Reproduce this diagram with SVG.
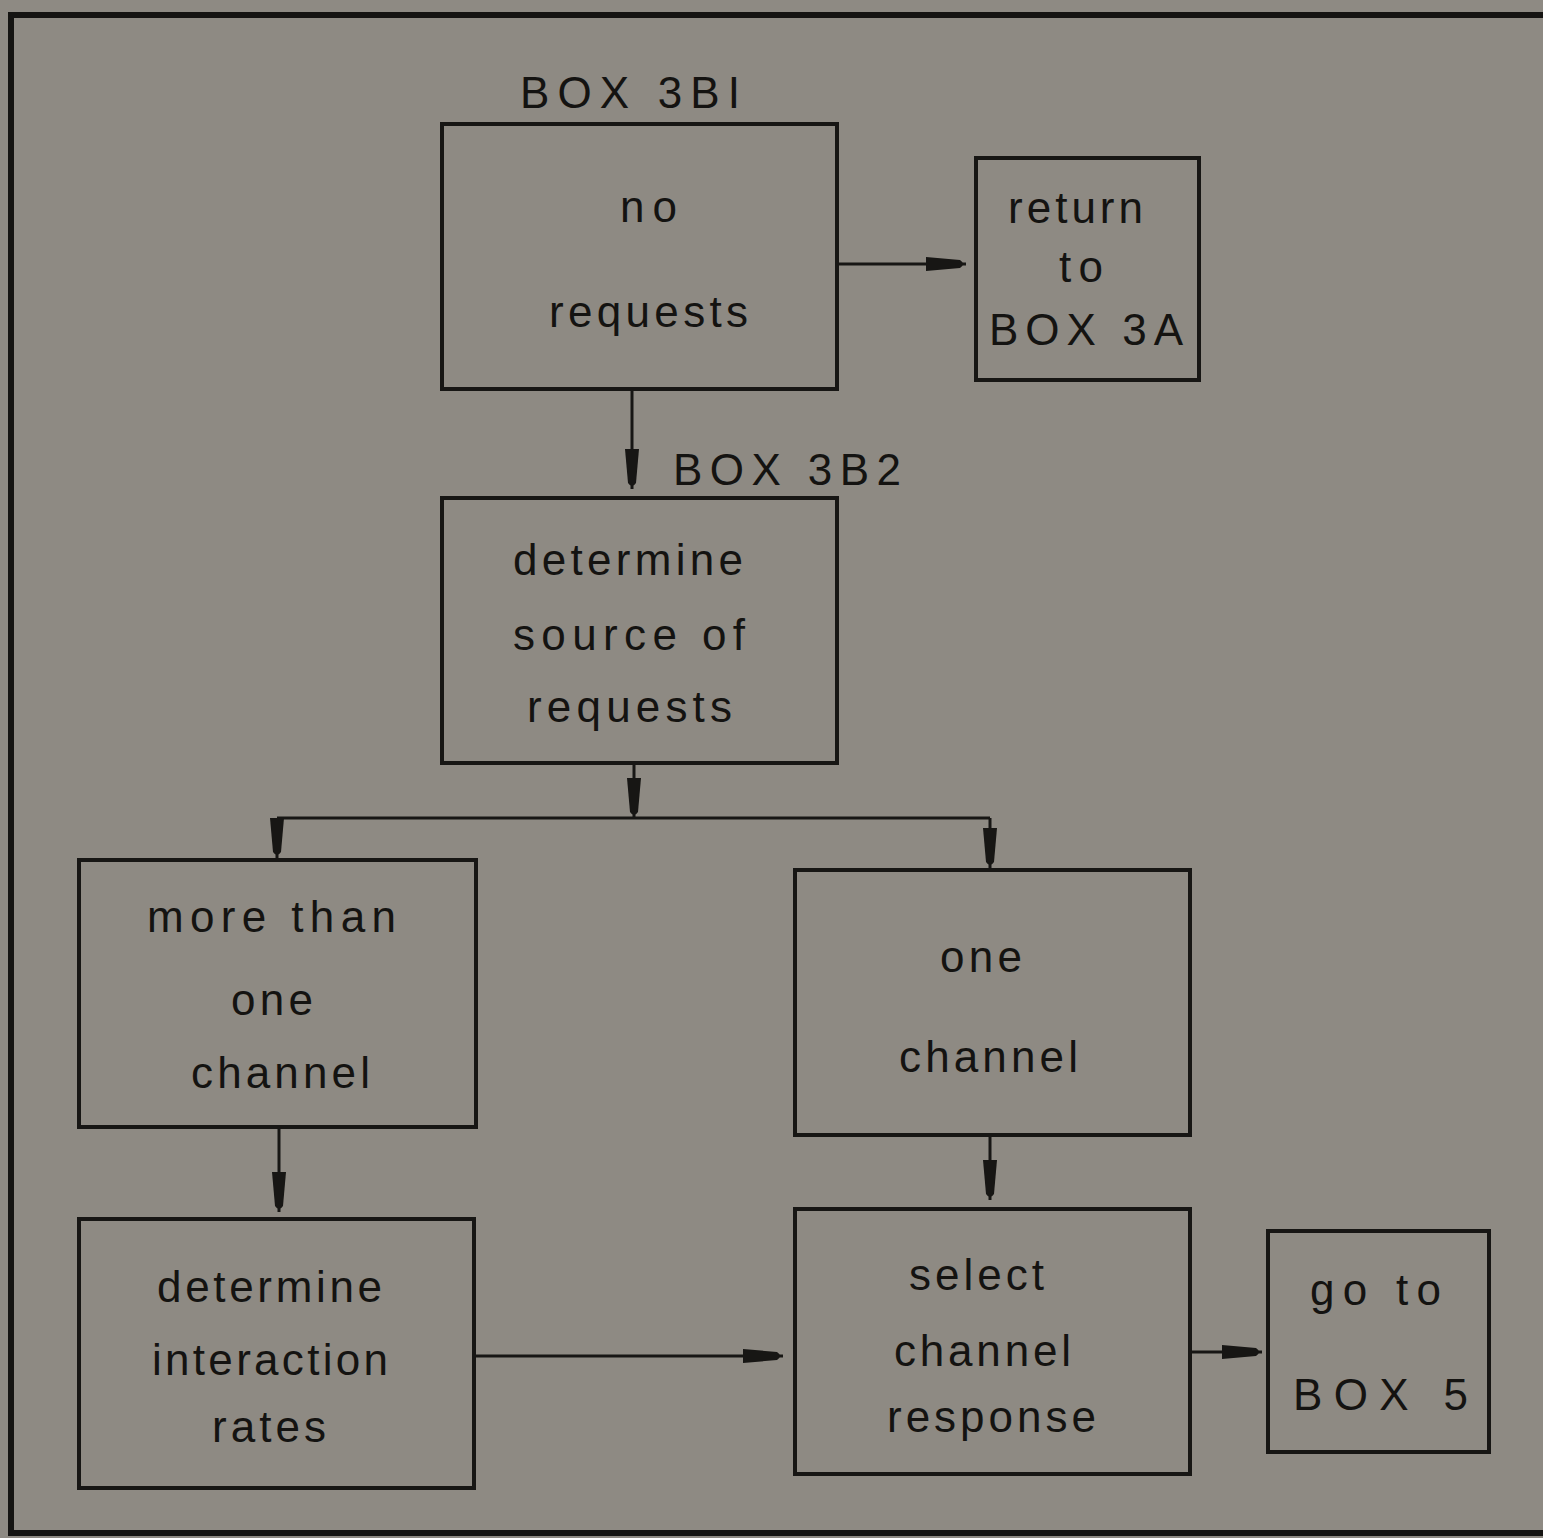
<svg xmlns="http://www.w3.org/2000/svg" width="1543" height="1538" viewBox="0 0 1543 1538">
<style>
.bg{fill:#8e8a83}
.frame{fill:none;stroke:#151412;stroke-width:6}
.box{fill:none;stroke:#171614;stroke-width:4}
.con{fill:none;stroke:#171614;stroke-width:3}
text{font-family:"Liberation Sans","DejaVu Sans",Arial,sans-serif;font-size:44px;fill:#141311}
</style>
<defs>
<marker id="ah" viewBox="0 0 40 16" refX="40" refY="8" markerWidth="40" markerHeight="16" markerUnits="userSpaceOnUse" orient="auto">
<path d="M0,1 L34,4 Q40,8 34,12 L0,15 Z" fill="#171614"/>
</marker>
</defs>
<rect class="bg" x="0" y="0" width="1543" height="1538"/>
<rect class="frame" x="11" y="15" width="1560" height="1518"/>

<g id="connectors">
<path class="con" d="M837,264 H966" marker-end="url(#ah)"/>
<path class="con" d="M632,389 V489" marker-end="url(#ah)"/>
<path class="con" d="M634,763 V818" marker-end="url(#ah)"/>
<path class="con" d="M277,818 H990"/>
<path class="con" d="M277,818 V858" marker-end="url(#ah)"/>
<path class="con" d="M990,818 V868" marker-end="url(#ah)"/>
<path class="con" d="M279,1127 V1212" marker-end="url(#ah)"/>
<path class="con" d="M990,1135 V1200" marker-end="url(#ah)"/>
<path class="con" d="M476,1356 H783" marker-end="url(#ah)"/>
<path class="con" d="M1190,1352 H1262" marker-end="url(#ah)"/>
</g>

<g id="box3b1">
<text x="520" y="108" textLength="220" lengthAdjust="spacing">BOX  3BI</text>
<rect class="box" x="442" y="124" width="395" height="265"/>
<text x="620" y="222" textLength="57" lengthAdjust="spacing">no</text>
<text x="549" y="327" textLength="199" lengthAdjust="spacing">requests</text>
</g>

<g id="box3a">
<rect class="box" x="976" y="158" width="223" height="222"/>
<text x="1008" y="223" textLength="135" lengthAdjust="spacing">return</text>
<text x="1059" y="282" textLength="44" lengthAdjust="spacing">to</text>
<text x="989" y="345" textLength="194" lengthAdjust="spacing">BOX  3A</text>
</g>

<g id="box3b2">
<text x="673" y="485" textLength="228" lengthAdjust="spacing">BOX  3B2</text>
<rect class="box" x="442" y="498" width="395" height="265"/>
<text x="513" y="575" textLength="230" lengthAdjust="spacing">determine</text>
<text x="513" y="650" textLength="232" lengthAdjust="spacing">source  of</text>
<text x="527" y="722" textLength="205" lengthAdjust="spacing">requests</text>
</g>

<g id="more">
<rect class="box" x="79" y="860" width="397" height="267"/>
<text x="147" y="932" textLength="249" lengthAdjust="spacing">more  than</text>
<text x="231" y="1015" textLength="82" lengthAdjust="spacing">one</text>
<text x="191" y="1088" textLength="179" lengthAdjust="spacing">channel</text>
</g>

<g id="one">
<rect class="box" x="795" y="870" width="395" height="265"/>
<text x="940" y="972" textLength="82" lengthAdjust="spacing">one</text>
<text x="899" y="1072" textLength="179" lengthAdjust="spacing">channel</text>
</g>

<g id="rates">
<rect class="box" x="79" y="1219" width="395" height="269"/>
<text x="157" y="1302" textLength="225" lengthAdjust="spacing">determine</text>
<text x="152" y="1375" textLength="236" lengthAdjust="spacing">interaction</text>
<text x="212" y="1442" textLength="114" lengthAdjust="spacing">rates</text>
</g>

<g id="select">
<rect class="box" x="795" y="1209" width="395" height="265"/>
<text x="909" y="1290" textLength="135" lengthAdjust="spacing">select</text>
<text x="894" y="1366" textLength="177" lengthAdjust="spacing">channel</text>
<text x="887" y="1432" textLength="209" lengthAdjust="spacing">response</text>
</g>

<g id="box5">
<rect class="box" x="1268" y="1231" width="221" height="221"/>
<text x="1310" y="1305" textLength="131" lengthAdjust="spacing">go  to</text>
<text x="1293" y="1410" textLength="175" lengthAdjust="spacing">BOX  5</text>
</g>
</svg>
